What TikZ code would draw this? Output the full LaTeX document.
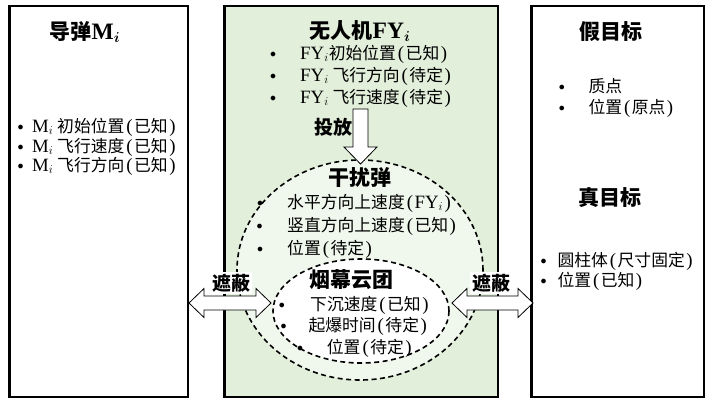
\documentclass[tikz,border=0pt]{standalone}
\usepackage{fontspec}
\setmainfont{Noto Sans CJK SC}
\newfontfamily\lat{Liberation Serif}[Scale=1.12]
\usetikzlibrary{shapes.geometric}
\definecolor{boxgreen}{HTML}{E2EFDA}
\definecolor{ellgreen}{HTML}{F0F7EC}
\newcommand\bul[1]{\makebox[#1][l]{\raisebox{2pt}{\fontsize{12}{12}\selectfont$\bullet$}}}
\newcommand\sub{$_i$}
\newcommand\LP{\kern2pt{\lat(}\kern1.5pt}
\newcommand\RP{\kern1.5pt{\lat)}}
\begin{document}
\begin{tikzpicture}[x=1pt,y=-1pt,
  bigbox/.style={draw=black, line width=2.2pt, inner sep=0pt, outer sep=0pt, anchor=north west},
  dashell/.style={ellipse, draw=black, line width=1.6pt, dash pattern=on 5pt off 3.5pt, inner sep=0pt},
  fatarrow/.style={draw=black, line width=0.8pt, fill=white, line join=miter},
  ttl/.style={inner sep=0pt, font=\fontsize{21}{24}\selectfont\bfseries},
  lbl/.style={fill=white, inner sep=2pt, font=\fontsize{19}{22}\selectfont\bfseries},
  item/.style={anchor=base west, inner sep=0pt, font=\fontsize{16.8}{18}\selectfont}]
\useasboundingbox (0,0) rectangle (706,399);
% boxes
\node[bigbox, minimum width=178.5pt, minimum height=391pt] (mis) at (9.5,6) {};
\node[bigbox, fill=boxgreen, minimum width=273.5pt, minimum height=391pt] (uav) at (224.5,6) {};
\node[bigbox, minimum width=172.5pt, minimum height=391pt] (tgt) at (531.5,6) {};
% ellipses
\node[dashell, fill=ellgreen, minimum width=246pt, minimum height=220pt] (decoy) at (360,270) {};
\node[dashell, fill=white, minimum width=176pt, minimum height=104pt] (smoke) at (361,311) {};
% drop arrow
\coordinate (dropTop) at (360.5,109);
\draw[fatarrow] (dropTop) ++(-7.5,0) -- ++(15,0) -- ++(0,38) -- ++(9,0) -- ++(-16.5,17) -- ++(-16.5,-17) -- ++(9,0) -- cycle;
% left double arrow
\coordinate (la) at (189,303);
\draw[fatarrow] (la) -- ++(15,-14.5) -- ++(0,7.5) -- ++(52,0) -- ++(0,-7.5) -- ++(15,14.5) -- ++(-15,14.5) -- ++(0,-7.5) -- ++(-52,0) -- ++(0,7.5) -- cycle;
% right double arrow
\coordinate (ra) at (452,303);
\draw[fatarrow] (ra) -- ++(15,-14.5) -- ++(0,7.5) -- ++(51,0) -- ++(0,-7.5) -- ++(15,14.5) -- ++(-15,14.5) -- ++(0,-7.5) -- ++(-51,0) -- ++(0,7.5) -- cycle;
% labels
\node[lbl] (shL) at (231,283) {遮蔽};
\node[lbl] (shR) at (491,283) {遮蔽};
\node[inner sep=0pt, font=\fontsize{19}{22}\selectfont\bfseries] (drop) at (333,127) {投放};
% titles
\node[ttl] (tmis) at (85,32) {导弹{\lat M}{\boldmath$_i$}};
\node[ttl] (tuav) at (360,31) {无人机{\lat FY}{\boldmath$_i$}};
\node[ttl] (tdecoy) at (360,177) {干扰弹};
\node[ttl] (tsmoke) at (351,280) {烟幕云团};
\node[ttl] (tfake) at (610.5,32) {假目标};
\node[ttl] (treal) at (610,198) {真目标};
% missile items
\node[item] (m1) at (17.5,132) {\bul{14.5pt}{\lat M}\sub\ 初始位置\LP 已知\RP};
\node[item] (m2) at (17.5,152) {\bul{14.5pt}{\lat M}\sub\ 飞行速度\LP 已知\RP};
\node[item] (m3) at (17.5,171) {\bul{14.5pt}{\lat M}\sub\ 飞行方向\LP 已知\RP};
% uav items
\node[item] (u1) at (270,59) {\bul{30pt}{\lat FY}\sub 初始位置\LP 已知\RP};
\node[item] (u2) at (270,81) {\bul{30pt}{\lat FY}\sub\ 飞行方向\LP 待定\RP};
\node[item] (u3) at (270,103) {\bul{30pt}{\lat FY}\sub\ 飞行速度\LP 待定\RP};
% decoy items
\node[item] (d1) at (257,208) {\bul{30pt}水平方向上速度\LP{\lat FY}\sub\RP};
\node[item] (d2) at (256.3,231) {\bul{30.7pt}竖直方向上速度\LP 已知\RP};
\node[item] (d3) at (257,254) {\bul{30pt}位置\LP 待定\RP};
% smoke items
\node[item] (s1) at (278.7,310) {\bul{31.3pt}下沉速度\LP 已知\RP};
\node[item] (s2) at (280.3,331) {\bul{28pt}起爆时间\LP 待定\RP};
\node[item] (s3) at (297,353) {\bul{29.7pt}位置\LP 待定\RP};
% fake target items
\node[item] (f1) at (558.7,92) {\bul{29.6pt}质点};
\node[item] (f2) at (558.7,113) {\bul{29.6pt}位置\LP 原点\RP};
% real target items
\node[item] (r1) at (540.3,266) {\bul{17pt}圆柱体\LP 尺寸固定\RP};
\node[item] (r2) at (540.3,286) {\bul{17pt}位置\LP 已知\RP};
\end{tikzpicture}
\end{document}
